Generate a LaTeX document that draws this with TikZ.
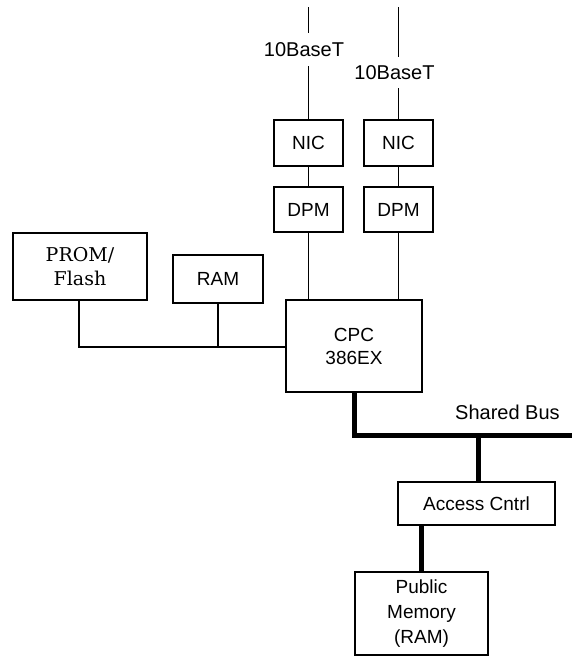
\documentclass[tikz,border=0pt]{standalone}
\usepackage{fontspec}
\setmainfont{Liberation Sans}
\newfontfamily\serifx{DejaVu Serif}
\begin{document}
\begin{tikzpicture}[x=1pt,y=-1pt,
  box/.style={draw, line width=1.2pt, inner sep=0pt, align=center,
    font=\fontsize{19}{23}\selectfont},
  thin/.style={line width=1.2pt},
  thick/.style={line width=5pt},
  lab/.style={inner sep=0pt, font=\fontsize{20}{24}\selectfont}]
\useasboundingbox (0,0) rectangle (572,662);
% nodes
\node[box, minimum width=134pt, minimum height=67pt, font=\serifx\fontsize{19}{24}\selectfont] (prom) at (80,266.5) {PROM/\\Flash};
\node[box, minimum width=90pt, minimum height=48pt] (ram) at (218,279) {RAM};
\node[box, minimum width=69pt, minimum height=46pt] (nic1) at (308.5,143) {NIC};
\node[box, minimum width=69pt, minimum height=46pt] (nic2) at (398.5,143) {NIC};
\node[box, minimum width=69pt, minimum height=45pt] (dpm1) at (308.5,209.5) {DPM};
\node[box, minimum width=69pt, minimum height=45pt] (dpm2) at (398.5,209.5) {DPM};
\node[box, minimum width=136pt, minimum height=92pt] (cpc) at (354,346) {CPC\\386EX};
\node[box, minimum width=157pt, minimum height=43pt] (acc) at (476.5,503.5) {Access Cntrl};
\node[box, minimum width=133pt, minimum height=83pt, font=\fontsize{19}{25}\selectfont] (pub) at (421.5,613.5) {Public\\Memory\\(RAM)};
% labels
\node[lab, minimum height=33pt] (lab1) at (304,49.5) {10BaseT};
\node[lab, minimum height=31pt] (lab2) at (394.5,72.5) {10BaseT};
\node[lab, anchor=south west] (sb) at (455,420) {Shared Bus};
% coordinates
\coordinate (top1) at (308.5,7);
\coordinate (top2) at (398.5,7);
\coordinate (bj) at (79,347);
\coordinate (busL) at (354,435.5);
\coordinate (busR) at (572,435.5);
\coordinate (busT) at (478,435.5);
% thin connectors
\draw[thin] (top1) -- (top1 |- lab1.north);
\draw[thin] (top1 |- lab1.south) -- (nic1.north);
\draw[thin] (top2) -- (top2 |- lab2.north);
\draw[thin] (top2 |- lab2.south) -- (nic2.north);
\draw[thin] (nic1) -- (dpm1);
\draw[thin] (nic2) -- (dpm2);
\draw[thin] (dpm1.south) -- (dpm1.south |- cpc.north);
\draw[thin] (dpm2.south) -- (dpm2.south |- cpc.north);
\draw[thin] (bj |- prom.south) -- (bj) -- (bj -| cpc.west);
\draw[thin] (ram.south) -- (ram.south |- bj);
% thick bus
\draw[thick] (cpc.south) -- (busL) -- (busR);
\draw[thick] (busT) -- (busT |- acc.north);
\draw[thick] (pub.north |- acc.south) -- (pub.north);
\end{tikzpicture}
\end{document}
